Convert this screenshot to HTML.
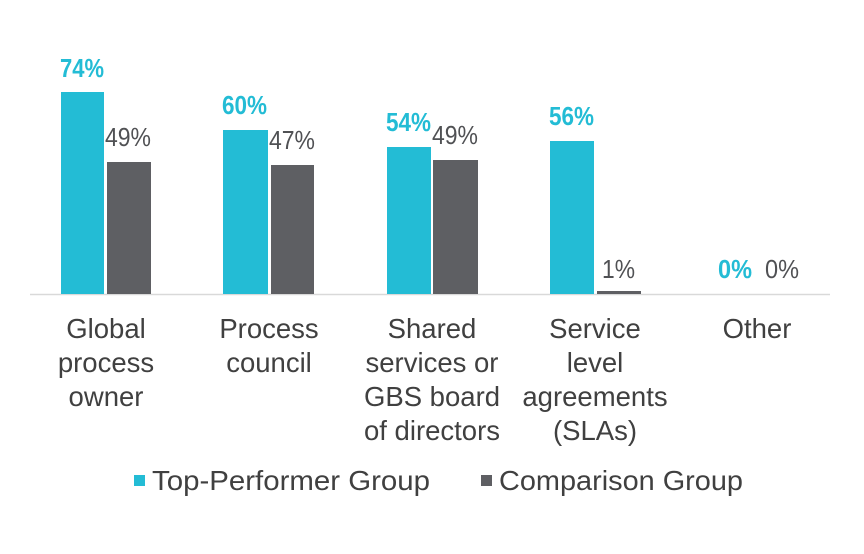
<!DOCTYPE html>
<html><head><style>
body{margin:0;background:#fff;}
svg text{font-family:"Liberation Sans",Arial,sans-serif;}
</style></head><body>
<svg width="864" height="549" xmlns="http://www.w3.org/2000/svg">
<line x1="30" y1="294.5" x2="830" y2="294.5" stroke="#d9d9d9" stroke-width="1.5"/>
<g fill="#23bcd5">
<rect x="61" y="92" width="43" height="202"/>
<rect x="223" y="130" width="45" height="164"/>
<rect x="387" y="147" width="44" height="147"/>
<rect x="550" y="141" width="44" height="153"/>
</g>
<g fill="#5e5f63">
<rect x="107" y="162" width="44" height="132"/>
<rect x="271" y="165" width="43" height="129"/>
<rect x="433" y="160" width="45" height="134"/>
<rect x="597" y="291" width="44" height="3"/>
</g>
<g font-size="26" fill="#23bcd5" font-weight="bold">
<text x="60" y="77" textLength="44" lengthAdjust="spacingAndGlyphs">74%</text>
<text x="222" y="114" textLength="45" lengthAdjust="spacingAndGlyphs">60%</text>
<text x="386" y="131" textLength="45" lengthAdjust="spacingAndGlyphs">54%</text>
<text x="549" y="125" textLength="45" lengthAdjust="spacingAndGlyphs">56%</text>
<text x="718" y="278" textLength="34" lengthAdjust="spacingAndGlyphs">0%</text>
</g>
<g font-size="26" fill="#505154">
<text x="105" y="146" textLength="46" lengthAdjust="spacingAndGlyphs">49%</text>
<text x="269" y="149" textLength="46" lengthAdjust="spacingAndGlyphs">47%</text>
<text x="432" y="144" textLength="46" lengthAdjust="spacingAndGlyphs">49%</text>
<text x="602" y="278" textLength="33" lengthAdjust="spacingAndGlyphs">1%</text>
<text x="765" y="278" textLength="34" lengthAdjust="spacingAndGlyphs">0%</text>
</g>
<g font-size="27.5" text-anchor="middle" fill="#404040">
<text x="106" y="338">Global</text><text x="106" y="372">process</text><text x="106" y="406">owner</text>
<text x="269" y="338">Process</text><text x="269" y="372">council</text>
<text x="432" y="338">Shared</text><text x="432" y="372">services or</text><text x="432" y="406">GBS board</text><text x="432" y="440">of directors</text>
<text x="595" y="338">Service</text><text x="595" y="372">level</text><text x="595" y="406">agreements</text><text x="595" y="440">(SLAs)</text>
<text x="757" y="338">Other</text>
</g>
<rect x="134" y="475" width="11" height="11" fill="#23bcd5"/>
<text x="152" y="490" font-size="28" fill="#404040" textLength="278" lengthAdjust="spacingAndGlyphs">Top-Performer Group</text>
<rect x="481" y="475" width="11" height="11" fill="#5e5f63"/>
<text x="499" y="490" font-size="28" fill="#404040" textLength="244" lengthAdjust="spacingAndGlyphs">Comparison Group</text>
</svg>
</body></html>
